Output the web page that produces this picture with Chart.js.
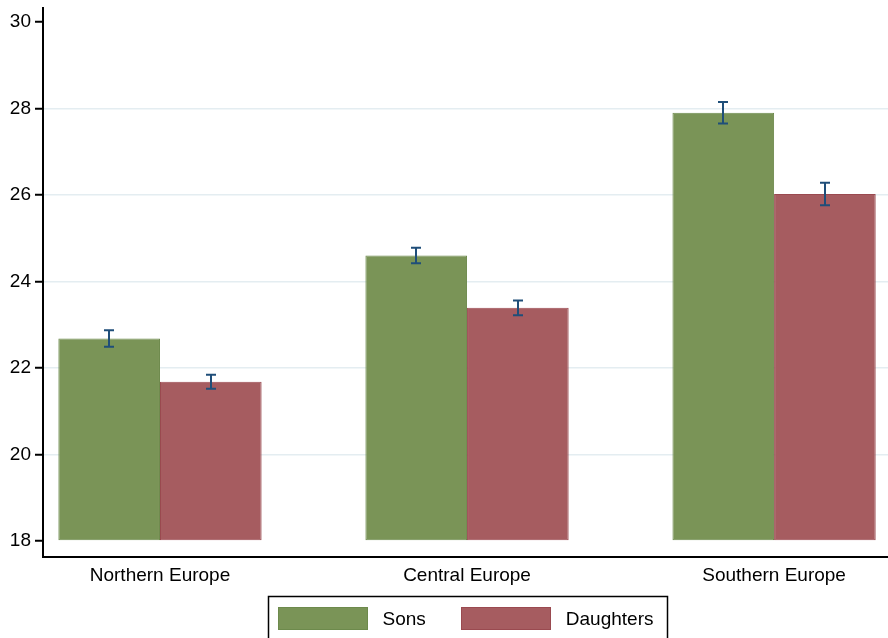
<!DOCTYPE html>
<html>
<head>
<meta charset="utf-8">
<script src="https://cdn.jsdelivr.net/npm/chart.js@4"></script>
<style>
  html, body { margin: 0; padding: 0; background: #ffffff; }
  #wrap { width: 888px; height: 638px; position: relative; }
</style>
</head>
<body>
<div id="wrap"><canvas id="c" width="888" height="638"></canvas></div>
<script>
const categories = ['Northern Europe', 'Central Europe', 'Southern Europe'];
const categoryPositions = [1, 2, 3];
const seriesNames = ['Sons', 'Daughters'];
const sonsValues = [22.68, 24.60, 27.90];
const daughtersValues = [21.68, 23.39, 26.02];
const sonsErrors = [0.19, 0.18, 0.25];
const daughtersErrors = [0.16, 0.17, 0.26];
const yTickValues = [18, 20, 22, 24, 26, 28, 30];
const barBase = 18;

const FONT = { family: '"Liberation Sans", Arial, sans-serif', size: 19 };
const FONT_CSS = '19px "Liberation Sans", Arial, sans-serif';

function points(values) {
  return values.map((v, i) => ({ x: categoryPositions[i], y: v }));
}
const errorsByDataset = [sonsErrors, daughtersErrors];

const errorBarPlugin = {
  id: 'errorBars',
  afterDatasetsDraw(chart) {
    const ctx = chart.ctx;
    const yScale = chart.scales.y;
    ctx.save();
    ctx.strokeStyle = '#1f4e79';
    ctx.lineWidth = 2;
    chart.data.datasets.forEach((ds, di) => {
      const meta = chart.getDatasetMeta(di);
      meta.data.forEach((el, i) => {
        const v = ds.data[i].y;
        const e = errorsByDataset[di][i];
        const x = Math.round(el.x);
        const yHi = yScale.getPixelForValue(v + e);
        const yLo = yScale.getPixelForValue(v - e);
        ctx.beginPath();
        ctx.moveTo(x, yHi); ctx.lineTo(x, yLo);
        ctx.moveTo(x - 5, yHi); ctx.lineTo(x + 5, yHi);
        ctx.moveTo(x - 5, yLo); ctx.lineTo(x + 5, yLo);
        ctx.stroke();
      });
    });
    ctx.restore();
  }
};

const boxedLegendPlugin = {
  id: 'boxedLegend',
  afterDraw(chart) {
    const ctx = chart.ctx;
    const ca = chart.chartArea;
    const boxW = 90, boxH = 23, gapText = 15, gapItem = 35, padL = 10, padR = 13, padT = 11;
    ctx.save();
    ctx.font = FONT_CSS;
    const items = chart.data.datasets.map(ds => ({
      text: ds.label, fill: ds.backgroundColor, stroke: ds.borderColor,
      w: boxW + gapText + ctx.measureText(ds.label).width
    }));
    const total = items.reduce((s, it) => s + it.w, 0) + gapItem * (items.length - 1);
    let x = (ca.left + ca.right) / 2 - total / 2;
    const boxTop = chart.height - 31;
    ctx.strokeStyle = '#000';
    ctx.lineWidth = 1.5;
    ctx.strokeRect(Math.round(x - padL) + 0.5, Math.round(boxTop - padT) + 0.5, Math.round(total + padL + padR), 60);
    ctx.textBaseline = 'middle';
    items.forEach(it => {
      ctx.fillStyle = it.fill;
      ctx.fillRect(Math.round(x), boxTop, boxW, boxH);
      ctx.strokeStyle = it.stroke; ctx.lineWidth = 1;
      ctx.strokeRect(Math.round(x) + 0.5, boxTop + 0.5, boxW - 1, boxH - 1);
      ctx.fillStyle = '#000';
      ctx.fillText(it.text, x + boxW + gapText, boxTop + boxH / 2 + 1);
      x += it.w + gapItem;
    });
    ctx.restore();
  }
};

new Chart(document.getElementById('c'), {
  type: 'bar',
  data: {
    datasets: [
      {
        label: seriesNames[0],
        data: points(sonsValues),
        base: barBase,
        backgroundColor: '#7a9457',
        borderColor: '#6d8a4c',
        borderWidth: 1,
        borderSkipped: false,
        categoryPercentage: 0.662,
        barPercentage: 1.0
      },
      {
        label: seriesNames[1],
        data: points(daughtersValues),
        base: barBase,
        backgroundColor: '#a65c60',
        borderColor: '#9a4a50',
        borderWidth: 1,
        borderSkipped: false,
        categoryPercentage: 0.662,
        barPercentage: 1.0
      }
    ]
  },
  options: {
    responsive: false,
    animation: false,
    devicePixelRatio: 1,
    layout: { padding: { top: 8, right: 0, left: 0, bottom: 44.2 } },
    plugins: {
      tooltip: { enabled: false },
      legend: { display: false }
    },
    scales: {
      x: {
        type: 'linear',
        offset: false,
        min: 0.619,
        max: 3.371,
        grid: { display: false, offset: false, drawTicks: false, tickLength: 0 },
        border: { display: true, color: '#000', width: 2 },
        afterBuildTicks: (scale) => { scale.ticks = categoryPositions.map(v => ({ value: v })); },
        afterFit: (scale) => { scale.paddingLeft = 0; scale.paddingRight = 0; },
        ticks: {
          font: FONT,
          color: '#000',
          padding: 7,
          autoSkip: false,
          maxRotation: 0,
          callback: (v) => {
            const i = categoryPositions.indexOf(v);
            return i >= 0 ? categories[i] : '';
          }
        }
      },
      y: {
        type: 'linear',
        min: 17.63,
        max: 30.32,
        afterBuildTicks: (scale) => { scale.ticks = yTickValues.map(v => ({ value: v })); },
        afterFit: (scale) => { scale.width = 43; scale.paddingTop = 0; scale.paddingBottom = 0; },
        grid: {
          color: (c) => (c.tick && (c.tick.value === 18 || c.tick.value === 30)) ? 'rgba(0,0,0,0)' : '#e4edf1',
          lineWidth: 1.5,
          tickColor: '#000',
          tickLength: 8,
          tickWidth: 2,
          drawTicks: true
        },
        border: { display: true, color: '#000', width: 2 },
        ticks: {
          font: FONT,
          color: '#000',
          padding: 4
        }
      }
    }
  },
  plugins: [errorBarPlugin, boxedLegendPlugin]
});
</script>
</body>
</html>
